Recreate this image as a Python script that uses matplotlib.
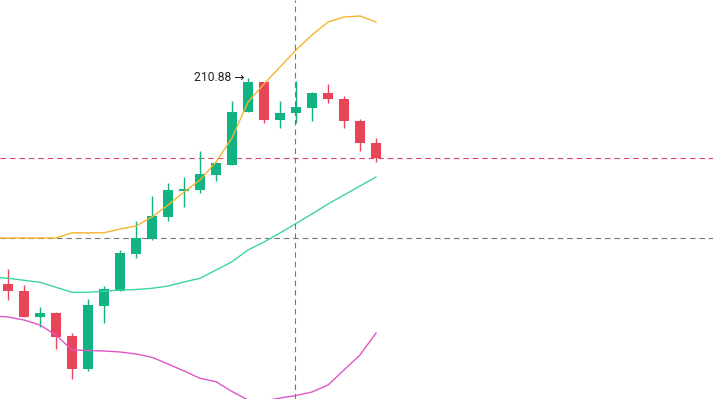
import matplotlib
matplotlib.use("Agg")
import matplotlib.pyplot as plt
import numpy as np

# Candles (OHLC)
opens  = [169.62, 168.22, 163.08, 163.82, 159.22, 152.68, 165.28, 168.22, 175.62, 178.62, 183.08, 188.22,
          188.42, 191.42, 193.42, 204.08, 210.08, 202.42, 203.76, 204.88, 207.76, 206.62, 202.22, 197.76]
highs  = [172.62, 169.42, 165.02, 164.08, 159.88, 166.62, 169.22, 176.42, 182.28, 187.22, 189.82, 191.02,
          196.28, 194.08, 206.28, 210.88, 210.10, 206.22, 210.22, 208.02, 209.62, 207.28, 202.62, 198.76]
lows   = [166.42, 163.00, 161.02, 156.62, 150.62, 152.22, 161.88, 168.20, 174.82, 178.42, 182.28, 185.08,
          187.88, 190.28, 193.40, 204.00, 201.88, 200.88, 201.76, 202.22, 205.76, 200.76, 196.28, 194.08]
closes = [168.28, 163.08, 163.82, 159.08, 152.68, 165.42, 168.62, 175.88, 178.76, 183.22, 188.42, 188.62,
          191.68, 193.82, 204.08, 209.96, 202.42, 203.88, 205.08, 207.76, 206.56, 202.28, 197.76, 194.80]

# Bollinger bands (first value belongs to the bar just before the visible range)
band_upper  = [178.82, 178.82, 178.82, 178.82, 178.82, 179.86, 179.86, 179.86, 180.62, 181.22, 183.02, 185.42,
               188.02, 190.42, 194.02, 198.82, 206.02, 209.62, 213.02, 216.42, 219.42, 222.02, 223.02, 223.22, 222.02]
band_middle = [171.02, 170.76, 170.36, 169.96, 168.96, 167.96, 167.96, 168.16, 168.42, 168.52, 168.76, 169.22,
               170.02, 170.76, 172.42, 174.08, 176.42, 178.02, 179.82, 181.72, 183.62, 185.62, 187.42, 189.22, 191.02]
band_lower  = [163.22, 163.02, 162.42, 161.42, 159.42, 156.42, 156.32, 156.22, 156.02, 155.62, 154.96, 153.62,
               152.22, 150.76, 150.08, 148.12, 146.42, 146.22, 146.82, 147.32, 148.02, 149.42, 152.42, 155.42, 159.82]

crosshair_index = 17.94
crosshair_price = 178.82
high_label = "210.88"
high_index = 15

UP = "#12b383"
DOWN = "#ea4458"

fig = plt.figure(figsize=(7.13, 3.99), dpi=100)
ax = fig.add_axes([0, 0, 1, 1])
ax.set_facecolor("white")

n = len(opens)
x = np.arange(n)
bx = np.arange(-1, n)

ax.plot(bx, band_upper, color="#f5b52e", lw=1.0, zorder=4)
ax.plot(bx, band_middle, color="#3ed3a6", lw=1.0, zorder=4)
ax.plot(bx, band_lower, color="#e055c8", lw=1.0, zorder=4)

width = 0.68
for i in range(n):
    o, h, l, c = opens[i], highs[i], lows[i], closes[i]
    col = UP if c >= o else DOWN
    ax.vlines(x[i], l, h, color=col, lw=1.0, zorder=2)
    bottom = min(o, c)
    height = max(abs(c - o), 0.3)
    ax.bar(x[i], height, width=width, bottom=bottom, color=col, zorder=3, linewidth=0)

dash = (0, (5, 3.5))
# last price line
ax.axhline(closes[-1], color="#d9466a", lw=0.8, linestyle=dash, zorder=1)
# crosshair
ax.axhline(crosshair_price, color="#777777", lw=0.8, linestyle=dash, zorder=1)
ax.axvline(crosshair_index, color="#777777", lw=0.8, linestyle=dash, zorder=5)

ax.annotate(high_label + " \u2192", xy=(high_index, highs[high_index]), xytext=(-4, 0),
            textcoords="offset pixels", ha="right", va="center",
            fontsize=8.7, color="#222222", family=["Roboto", "DejaVu Sans"], zorder=6)

ax.set_xlim(-0.5, -0.5 + 713 / 16)
ax.set_ylim(146.62, 226.42)
ax.axis("off")

fig.savefig("out.png", dpi=100, facecolor="white")
